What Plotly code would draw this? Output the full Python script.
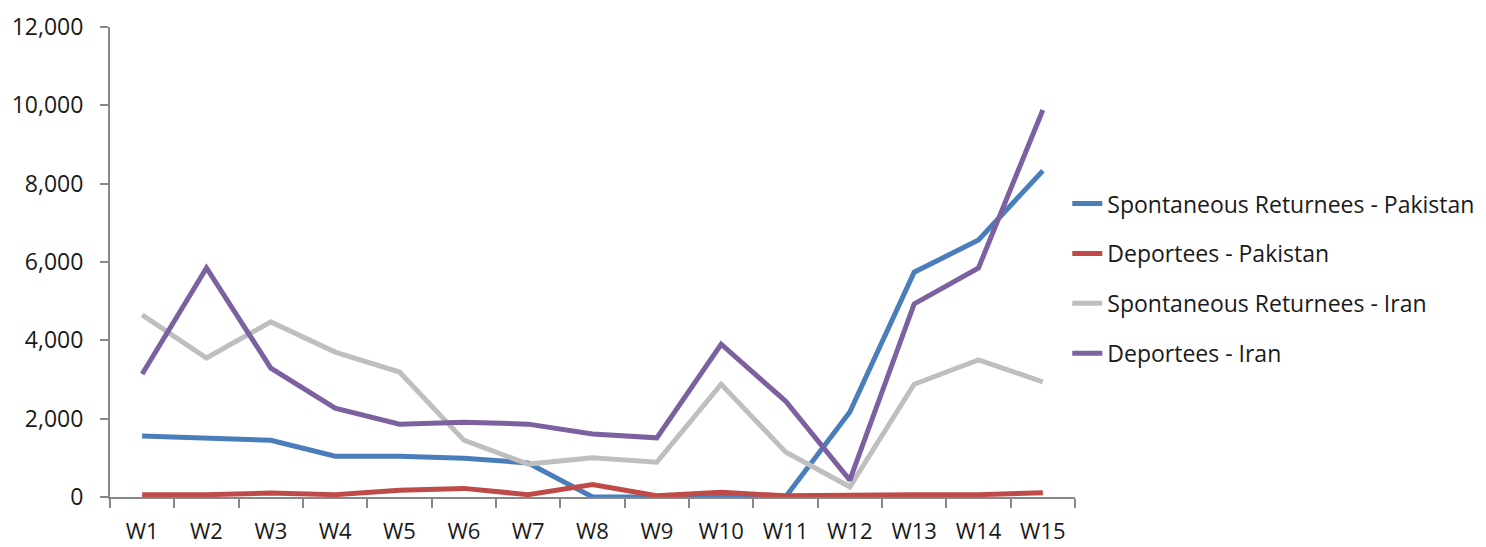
import plotly.graph_objects as go

weeks = ["W1", "W2", "W3", "W4", "W5", "W6", "W7", "W8", "W9", "W10", "W11", "W12", "W13", "W14", "W15"]
spont_pakistan = [1560, 1500, 1450, 1040, 1040, 990, 870, 0, 0, 0, 0, 2170, 5740, 6560, 8330]
deport_pakistan = [60, 60, 100, 60, 170, 220, 60, 320, 30, 120, 30, 60, 60, 60, 110]
spont_iran = [4650, 3550, 4470, 3700, 3190, 1450, 840, 1000, 890, 2880, 1150, 260, 2880, 3500, 2940]
deport_iran = [3140, 5850, 3290, 2270, 1860, 1910, 1860, 1610, 1510, 3900, 2450, 430, 4930, 5850, 9880]

series_names = ["Spontaneous Returnees - Pakistan", "Deportees - Pakistan",
                "Spontaneous Returnees - Iran", "Deportees - Iran"]
series_values = [spont_pakistan, deport_pakistan, spont_iran, deport_iran]
colors = ["#4A7EBB", "#BE4B48", "#BFBFBF", "#7D60A0"]

fig = go.Figure()
for i, (name, vals, col) in enumerate(zip(series_names, series_values, colors)):
    fig.add_trace(go.Scatter(x=weeks, y=vals, mode="lines", name=name,
                             legendgroup=f"g{i}",
                             line=dict(color=col, width=5)))

font_family = "Open Sans, Noto Sans, Liberation Sans, sans-serif"
fig.update_layout(
    width=1486, height=547,
    margin=dict(l=102, r=419, t=19, b=58, autoexpand=False),
    paper_bgcolor="white", plot_bgcolor="white",
    font=dict(family=font_family, size=23, color="#1a1a1a"),
    showlegend=True,
    legend=dict(x=0.992, y=0.67, xanchor="left", yanchor="top",
                traceorder="grouped", tracegroupgap=17,
                font=dict(size=23, family=font_family, color="#1a1a1a"),
                bgcolor="rgba(0,0,0,0)"),
    xaxis=dict(type="category", range=[-0.5, 14.5], showgrid=False,
               showline=True, linecolor="#888888", linewidth=2,
               ticks="outside", tickson="boundaries", ticklen=9,
               tickcolor="#888888", tickwidth=2, automargin=False,
               tickfont=dict(size=22), ticklabelstandoff=14),
    yaxis=dict(range=[0, 12000], dtick=2000, tickformat=",", showgrid=False,
               showline=True, linecolor="#888888", linewidth=2,
               ticks="outside", ticklen=8, tickcolor="#888888", tickwidth=2,
               automargin=False,
               tickfont=dict(size=23), zeroline=False, ticklabelstandoff=12),
)

fig.write_html("out.html")
